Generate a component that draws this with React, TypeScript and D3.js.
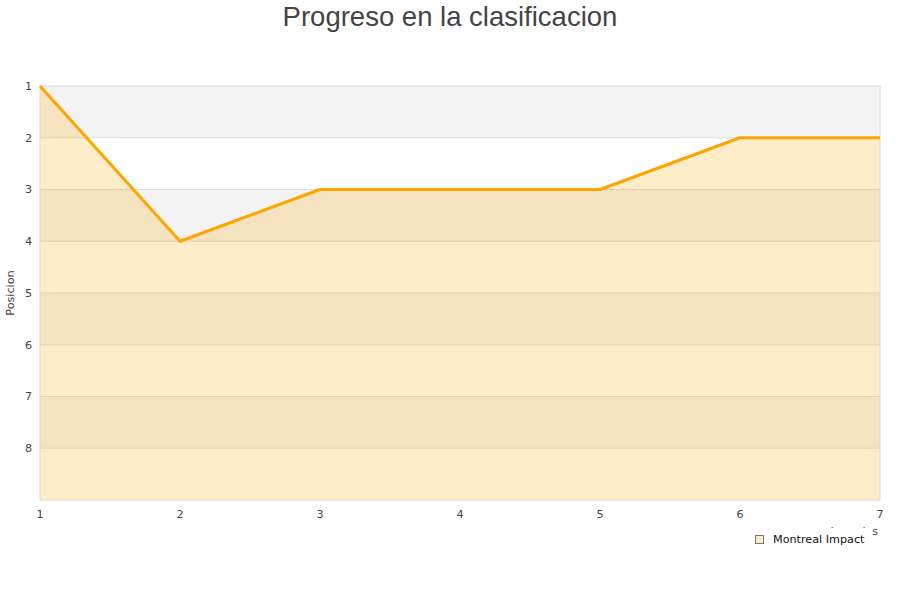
import React from "react";
import * as d3 from "d3";

const jornadas = [1, 2, 3, 4, 5, 6, 7];
const posiciones = [1, 4, 3, 3, 3, 2, 2];
const yTicks = [1, 2, 3, 4, 5, 6, 7, 8];
const seriesName = "Montreal Impact";
const titleText = "Progreso en la clasificacion";
const yTitle = "Posicion";
const xTitle = "Jornadas";

const W = 900, H = 600;
const L = 40, R = 880, T = 86, B = 500;
const FONT = "'DejaVu Sans', sans-serif";

export default function App() {
  const x = d3.scaleLinear().domain([1, 7]).range([L, R]);
  const y = d3.scaleLinear().domain([1, 9]).range([T, B]);
  const data = jornadas.map((j, i) => ({ j, p: posiciones[i] }));
  const line = d3.line<any>().x(d => x(d.j)).y(d => y(d.p));
  const area = d3.area<any>().x(d => x(d.j)).y0(y(9)).y1(d => y(d.p));
  const bands = d3.range(1, 9, 2);

  return (
    <svg width={W} height={H} style={{ position: "absolute", left: 0, top: 0, background: "#fff" }}>
      <text x={W / 2} y={25.5} textAnchor="middle" fontFamily="'Liberation Sans', Arial, sans-serif" fontSize={27.5} fill="#444">{titleText}</text>
      {bands.map(b => (
        <rect key={b} x={L} y={y(b)} width={R - L} height={y(b + 1) - y(b)} fill="#f3f3f3" />
      ))}
      {yTicks.slice(1).map(t => (
        <line key={t} x1={L} x2={R} y1={y(t)} y2={y(t)} stroke="#dedede" strokeWidth={1} />
      ))}
      <path d={area(data) || ""} fill="#ffa500" fillOpacity={0.21} />
      <rect x={L} y={T} width={R - L} height={B - T} fill="none" stroke="#d8d8d8" strokeWidth={1} />
      <path d={line(data) || ""} fill="none" stroke="#ffa500" strokeWidth={3} strokeLinejoin="round" />
      {yTicks.map(t => (
        <text key={t} x={32} y={y(t)} dy="0.35em" textAnchor="end" fontFamily={FONT} fontSize={11.2} fill="#444">{t}</text>
      ))}
      {jornadas.map(t => (
        <text key={t} x={x(t)} y={518} textAnchor="middle" fontFamily={FONT} fontSize={11.2} fill="#444">{t}</text>
      ))}
      <text transform={`translate(14,${(T + B) / 2}) rotate(-90)`} textAnchor="middle" fontFamily={FONT} fontSize={11.2} fill="#444">{yTitle}</text>
      <text x={878} y={535} textAnchor="end" fontFamily={FONT} fontSize={11} fill="#444">{xTitle}</text>
      <rect x={745} y={528} width={127} height={24} fill="#fff" />
      <rect x={755.5} y={535.5} width={8} height={8} fill="#ffebc8" stroke="#777" strokeWidth={1} />
      <text x={773} y={543} fontFamily={FONT} fontSize={11.2} fill="#111">{seriesName}</text>
    </svg>
  );
}
